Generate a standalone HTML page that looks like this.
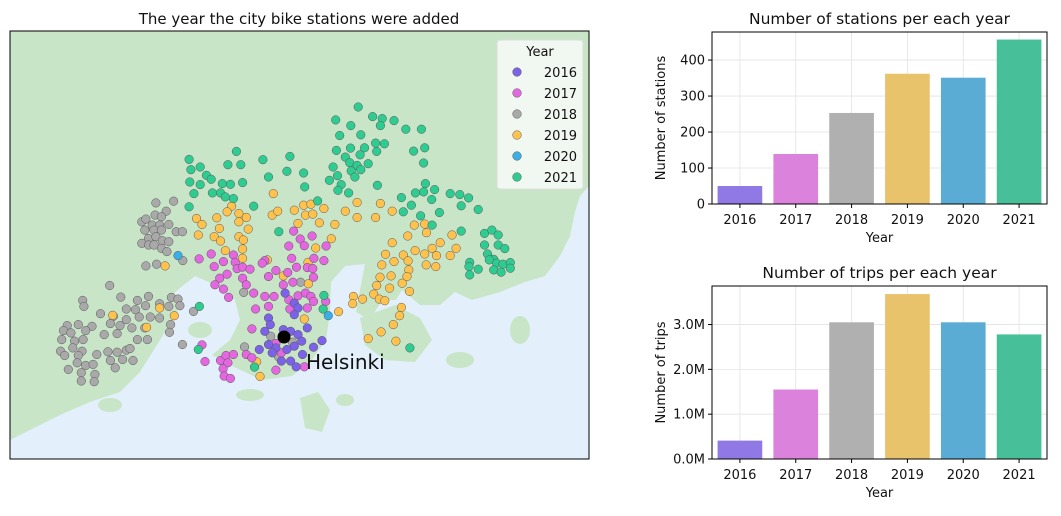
<!DOCTYPE html>
<html><head><meta charset="utf-8">
<style>
body{margin:0;background:#fff;width:1061px;height:511px;overflow:hidden;font-family:"Liberation Sans","DejaVu Sans",sans-serif;}
svg text{font-family:"DejaVu Sans","Liberation Sans",sans-serif;fill:#111;}
</style></head>
<body>
<svg id="root" width="1061" height="511" viewBox="0 0 1061 511" xmlns="http://www.w3.org/2000/svg">
<text x="299" y="24" font-size="15" text-anchor="middle">The year the city bike stations were added</text>
<clipPath id="mapclip"><rect x="10" y="31" width="579" height="428"/></clipPath>
<g id="map" clip-path="url(#mapclip)">
<rect x="10" y="31" width="579" height="428" fill="#c8e5c8"/>
<path fill="#e3f0fb" d="M10,440 L40,425 L60,415 L90,402 L120,392 L140,372 L155,348 L165,332 L178,315 L175,292 L195,276 L215,285 L235,300 L240,320 L230,340 L212,355 L232,366 L262,380 L292,376 L312,360 L326,340 L330,312 L331,282 L345,266 L365,264 L360,290 L356,312 L370,320 L382,300 L396,300 L402,290 L420,305 L440,305 L455,292 L472,300 L500,292 L525,282 L545,276 L560,256 L570,236 L575,212 L580,196 L590,185 L590,460 L10,460 Z"/>
<g fill="#c8e5c8">
<path d="M360,318 L395,305 L420,318 L432,340 L415,362 L385,360 L365,345 Z"/>
<path d="M300,398 L318,392 L330,410 L322,432 L305,428 Z"/>
<ellipse cx="345" cy="400" rx="9" ry="6"/>
<ellipse cx="110" cy="405" rx="12" ry="7"/>
<ellipse cx="460" cy="360" rx="14" ry="8"/>
<ellipse cx="200" cy="330" rx="12" ry="8"/>
<ellipse cx="520" cy="330" rx="10" ry="14"/>
<ellipse cx="250" cy="395" rx="14" ry="6"/>
</g>
<g id="points"></g>
<circle cx="284" cy="337" r="6.5" fill="#000"/>
<text x="306" y="369" font-size="20">Helsinki</text>
<g id="legend">
<rect x="497" y="40" width="86" height="149" rx="3" fill="#f5f8f5" fill-opacity="0.9" stroke="#ddd"/>
<text x="540" y="56" font-size="13" text-anchor="middle">Year</text>
</g>
</g>
<rect x="10" y="31" width="579" height="428" fill="none" stroke="#000" stroke-width="1"/>
<g id="bars1"></g>
<g id="bars2"></g>
</svg>
<script>
// ---- map data: tile-pixel grid coordinates (gx, gy) of stations per year ----
const years = ['2016','2017','2018','2019','2020','2021'];
const pointColors = ['#7b62e8','#e466e0','#a9a9a9','#ffc24d','#3aaee6','#2ecc90'];
const barColors = ['#9079e4','#db82dc','#b0b0b0','#e8c36c','#5aacd4','#47c09a'];
const st2016 = [[745,790],[770,820],[780,835],[770,855],[700,865],[705,885],[690,905],[740,900],[760,905],[780,915],[790,935],[770,950],[750,960],[720,955],[700,945],[675,960],[710,970],[735,995],[760,995],[775,1012],[805,895],[845,933],[822,953],[792,975]];
const st2017 = [[768,603],[818,618],[786,627],[755,648],[797,647],[856,648],[823,685],[850,692],[763,685],[805,713],[776,712],[820,716],[822,742],[690,692],[683,700],[720,722],[700,740],[752,728],[766,757],[740,765],[512,687],[545,672],[578,695],[553,710],[605,675],[610,697],[615,716],[630,712],[650,718],[568,745],[588,733],[555,765],[578,778],[630,745],[640,765],[660,790],[690,800],[715,800],[755,810],[780,798],[800,790],[815,800],[822,815],[855,815],[592,803],[665,838],[700,830],[758,838],[805,835],[655,898],[520,946],[528,996],[570,993],[585,978],[605,975],[590,1000],[577,1018],[580,1040],[597,1047],[640,975],[655,985],[720,1022],[797,1012],[735,970],[720,942]];
const st2018 = [[395,518],[443,513],[423,543],[393,555],[410,560],[357,575],[368,567],[385,585],[405,585],[430,583],[365,600],[390,600],[410,600],[450,605],[467,605],[375,625],[395,620],[413,632],[430,635],[357,640],[375,645],[390,645],[410,655],[425,665],[368,708],[397,703],[468,692],[270,767],[300,802],[197,812],[200,830],[345,812],[375,800],[367,828],[405,822],[437,803],[455,808],[460,828],[430,830],[245,852],[315,838],[340,840],[280,860],[315,870],[350,862],[380,862],[405,865],[435,885],[155,888],[185,885],[222,890],[205,903],[145,903],[165,910],[272,882],[298,888],[330,895],[365,895],[255,915],[290,912],[345,930],[372,930],[432,908],[175,935],[198,930],[140,930],[137,965],[170,955],[195,965],[148,978],[185,978],[235,975],[265,967],[290,968],[315,962],[325,957],[182,1000],[205,1008],[225,1005],[272,993],[305,990],[333,993],[285,1015],[158,1020],[193,1030],[230,1035],[193,1055],[228,1057],[467,945],[497,845],[635,952],[633,788],[787,757],[765,938],[706,920],[727,982]];
const st2019 = [[713,490],[600,528],[588,545],[620,550],[640,562],[505,565],[520,583],[560,563],[620,575],[567,595],[645,597],[510,615],[553,620],[570,633],[620,620],[632,630],[583,662],[630,657],[630,685],[420,708],[710,555],[725,543],[770,540],[795,525],[815,522],[850,535],[800,555],[820,552],[780,580],[838,578],[880,583],[870,626],[828,654],[807,697],[697,690],[740,738],[808,762],[908,543],[940,517],[940,562],[1003,520],[990,562],[1035,543],[1095,585],[1123,582],[1128,608],[1077,618],[1035,638],[1197,615],[1165,638],[1208,655],[1143,655],[1123,672],[1155,677],[1097,662],[1065,675],[1017,673],[1078,693],[1040,695],[1007,705],[1127,705],[1153,710],[1192,677],[1080,720],[1032,738],[1002,742],[1062,760],[1075,740],[993,767],[1028,775],[1082,785],[985,793],[1000,808],[1015,813],[930,800],[955,808],[928,822],[890,846],[1060,833],[1055,858],[1038,885],[1005,907],[970,927],[1045,935],[797,868],[405,835],[445,858],[370,893],[278,857],[668,997],[677,1041]];
const st2020 = [[455,677],[862,858]];
const st2021 = [[943,229],[982,258],[1008,264],[1003,285],[1040,270],[1072,296],[1114,296],[882,268],[923,285],[950,313],[893,315],[990,338],[1014,340],[922,353],[960,352],[884,360],[993,363],[948,373],[1093,362],[1123,352],[908,380],[920,397],[940,405],[970,400],[1120,398],[875,410],[924,422],[950,418],[887,436],[934,440],[865,450],[897,463],[888,480],[917,488],[995,465],[1125,460],[1150,478],[1120,485],[1098,488],[1060,502],[1087,525],[1142,508],[1065,545],[1112,557],[1163,547],[1143,585],[1192,490],[1218,493],[1242,503],[1222,527],[1268,538],[1222,603],[1285,610],[1305,600],[1322,615],[1285,645],[1322,645],[1340,656],[1293,672],[1310,688],[1298,690],[1318,700],[1245,697],[1243,710],[1268,718],[1310,720],[1335,703],[1355,698],[1355,715],[1330,727],[1245,735],[833,512],[660,528],[728,605],[485,387],[490,418],[515,410],[532,435],[545,447],[487,455],[515,463],[498,490],[548,488],[570,488],[575,460],[597,462],[583,500],[605,505],[590,403],[625,403],[613,363],[630,457],[685,388],[758,378],[700,440],[750,423],[795,428],[798,470],[485,530],[850,797],[848,838],[513,830],[510,960],[662,1013],[1083,955]];
// ---- bar data ----
const stationCounts = [50,139,253,362,351,457];
const tripCounts = [0.41,1.55,3.05,3.68,3.05,2.78]; // millions
const stationTicks = [0,100,200,300,400];
const tripTicks = [0,1,2,3];

const NS='http://www.w3.org/2000/svg';
function mk(tag, attrs, parent){const e=document.createElementNS(NS,tag);for(const k in attrs)e.setAttribute(k,attrs[k]);parent.appendChild(e);return e;}

const gx = v => 10 + v*579/1568;
const gy = v => 31 + v*428/1290;
const pts = document.getElementById('points');
const groups=[st2016,st2017,st2018,st2019,st2020,st2021];
const drawOrder=[2,3,1,0,4,5];
drawOrder.forEach(i=>{
  groups[i].forEach(p=>{
    const c=mk('circle',{cx:gx(p[0]).toFixed(1),cy:gy(p[1]).toFixed(1),r:4.3,fill:pointColors[i],stroke:'#555','stroke-width':0.5},pts);
    
    
  });
});
const lg=document.getElementById('legend');
years.forEach((y,i)=>{
  const cy=72+i*21;
  const c=mk('circle',{cx:517,cy:cy,r:4.3,fill:pointColors[i],stroke:'#555','stroke-width':0.5},lg);
  
  
  const t=mk('text',{x:577,y:cy+5,'font-size':13,'text-anchor':'end'},lg);
  t.textContent=y;
  
  
});

function barChart(gid, vals, ticks, top, bottom, ymax, title, ylab, fmt, key){
  const g=document.getElementById(gid);
  const L=712,R=1047;
  const band=(R-L)/years.length;
  const xs=i=>L+band*(i+0.5);
  const ys=v=>bottom-(v/ymax)*(bottom-top);
  ticks.forEach(t=>{const l=mk('line',{x1:L,x2:R,y1:ys(t),y2:ys(t),stroke:'#e3e3e3','stroke-width':0.8},g);
    });
  years.forEach((y,i)=>{const l=mk('line',{x1:xs(i),x2:xs(i),y1:top,y2:bottom,stroke:'#e3e3e3','stroke-width':0.8},g);
    });
  vals.forEach((v,i)=>{
    const r=mk('rect',{x:xs(i)-band*0.4,width:band*0.8,y:ys(v),height:bottom-ys(v),fill:barColors[i]},g);
    
    
  });
  mk('rect',{x:L,y:top,width:R-L,height:bottom-top,fill:'none',stroke:'#000','stroke-width':1},g);
  ticks.forEach(t=>{
    mk('line',{x1:L-4,x2:L,y1:ys(t),y2:ys(t),stroke:'#000'},g);
    const tx=mk('text',{x:L-7,y:ys(t)+4.5,'font-size':13,'text-anchor':'end'},g);
    tx.textContent=fmt(t);
    
    
  });
  years.forEach((y,i)=>{
    mk('line',{x1:xs(i),x2:xs(i),y1:bottom,y2:bottom+4,stroke:'#000'},g);
    const tx=mk('text',{x:xs(i),y:bottom+20,'font-size':13,'text-anchor':'middle'},g);
    tx.textContent=y;
    
    
  });
  const xt=mk('text',{x:(L+R)/2,y:bottom+38,'font-size':13,'text-anchor':'middle'},g);
  xt.textContent='Year';
  
  
  const yt=mk('text',{x:0,y:0,'font-size':13,'text-anchor':'middle',transform:'translate(665,'+((top+bottom)/2)+') rotate(-90)'},g);
  yt.textContent=ylab;
  
  
  const tt=mk('text',{x:(L+R)/2,y:top-8,'font-size':15.5,'text-anchor':'middle'},g);
  tt.textContent=title;
  
  
}
barChart('bars1',stationCounts,stationTicks,32,204,478,'Number of stations per each year','Number of stations',t=>String(t),'stations');
barChart('bars2',tripCounts,tripTicks,286,459,3.86,'Number of trips per each year','Number of trips',t=>t.toFixed(1)+'M','trips');
</script>
</body></html>
